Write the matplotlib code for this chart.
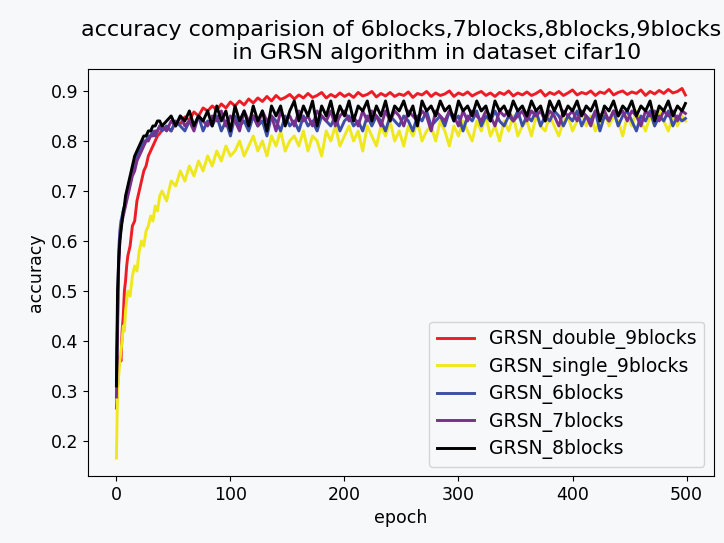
import matplotlib
matplotlib.use("Agg")
import matplotlib.pyplot as plt

# sampled epochs (dense at the start, every 4 epochs afterwards)
epochs = list(range(0, 10)) + list(range(10, 40, 2)) + list(range(40, 500, 4)) + [499]

double_9 = [0.266, 0.31, 0.35, 0.37, 0.36, 0.42, 0.45, 0.50, 0.52, 0.55,
            0.57, 0.59, 0.63, 0.64, 0.68, 0.70, 0.72, 0.74, 0.75, 0.77, 0.78, 0.79, 0.80, 0.81, 0.815,
            0.822, 0.828, 0.820, 0.838, 0.834, 0.848, 0.842, 0.858, 0.850, 0.866,
            0.860, 0.870, 0.862, 0.874, 0.866, 0.878, 0.870, 0.880, 0.872, 0.884,
            0.876, 0.886, 0.879, 0.889, 0.880, 0.891, 0.883, 0.887, 0.893, 0.884,
            0.892, 0.886, 0.895, 0.887, 0.891, 0.897, 0.886, 0.893, 0.888, 0.896,
            0.889, 0.894, 0.887, 0.897, 0.890, 0.893, 0.899, 0.888, 0.895, 0.890,
            0.897, 0.889, 0.894, 0.891, 0.898, 0.887, 0.895, 0.892, 0.899, 0.889,
            0.896, 0.891, 0.894, 0.900, 0.889, 0.896, 0.892, 0.898, 0.890, 0.895,
            0.899, 0.891, 0.896, 0.889, 0.897, 0.893, 0.900, 0.890, 0.896, 0.892,
            0.898, 0.891, 0.895, 0.901, 0.890, 0.897, 0.893, 0.899, 0.891, 0.896,
            0.902, 0.892, 0.897, 0.894, 0.900, 0.891, 0.898, 0.895, 0.903, 0.892,
            0.897, 0.900, 0.893, 0.898, 0.895, 0.902, 0.891, 0.899, 0.894, 0.901,
            0.895, 0.903, 0.896, 0.899, 0.905,
            0.892]

single_9 = [0.166, 0.30, 0.33, 0.36, 0.38, 0.40, 0.43, 0.42, 0.46, 0.48,
            0.50, 0.49, 0.53, 0.55, 0.54, 0.58, 0.60, 0.59, 0.62, 0.63, 0.65, 0.64, 0.67, 0.66, 0.69,
            0.70, 0.68, 0.72, 0.71, 0.74, 0.72, 0.75, 0.73, 0.76, 0.74,
            0.77, 0.75, 0.78, 0.76, 0.79, 0.77, 0.78, 0.80, 0.77, 0.79,
            0.81, 0.78, 0.80, 0.77, 0.81, 0.79, 0.82, 0.78, 0.80, 0.81,
            0.79, 0.82, 0.78, 0.81, 0.80, 0.77, 0.82, 0.80, 0.83, 0.79,
            0.81, 0.83, 0.80, 0.82, 0.78, 0.83, 0.81, 0.79, 0.83, 0.81,
            0.84, 0.80, 0.82, 0.79, 0.83, 0.81, 0.84, 0.80, 0.82, 0.83,
            0.80, 0.84, 0.82, 0.79, 0.83, 0.81, 0.84, 0.82, 0.80, 0.84,
            0.82, 0.85, 0.81, 0.83, 0.80, 0.84, 0.82, 0.85, 0.81, 0.83,
            0.84, 0.81, 0.85, 0.83, 0.82, 0.85, 0.83, 0.81, 0.84, 0.85,
            0.82, 0.84, 0.86, 0.83, 0.85, 0.82, 0.84, 0.86, 0.83, 0.85,
            0.84, 0.81, 0.85, 0.83, 0.86, 0.84, 0.82, 0.85, 0.83, 0.86,
            0.84, 0.82, 0.85, 0.83, 0.85,
            0.84]

blocks_6 = [0.32, 0.45, 0.58, 0.62, 0.64, 0.65, 0.66, 0.67, 0.68, 0.69,
            0.70, 0.72, 0.74, 0.75, 0.77, 0.78, 0.79, 0.80, 0.80, 0.81, 0.81, 0.82, 0.81, 0.82, 0.83,
            0.82, 0.83, 0.82, 0.84, 0.83, 0.82, 0.84, 0.83, 0.85, 0.82,
            0.84, 0.83, 0.85, 0.82, 0.84, 0.81, 0.85, 0.83, 0.84, 0.82,
            0.85, 0.83, 0.84, 0.81, 0.85, 0.84, 0.82, 0.85, 0.83, 0.84,
            0.82, 0.85, 0.83, 0.84, 0.82, 0.85, 0.84, 0.83, 0.85, 0.82,
            0.84, 0.85, 0.83, 0.84, 0.82, 0.85, 0.83, 0.85, 0.84, 0.82,
            0.85, 0.84, 0.83, 0.85, 0.84, 0.82, 0.85, 0.84, 0.86, 0.83,
            0.84, 0.85, 0.83, 0.86, 0.84, 0.85, 0.82, 0.85, 0.84, 0.86,
            0.83, 0.85, 0.84, 0.86, 0.84, 0.83, 0.85, 0.84, 0.86, 0.83,
            0.85, 0.84, 0.86, 0.83, 0.85, 0.84, 0.86, 0.85, 0.83, 0.85,
            0.84, 0.86, 0.83, 0.85, 0.84, 0.86, 0.82, 0.85, 0.84, 0.86,
            0.83, 0.85, 0.86, 0.84, 0.82, 0.85, 0.84, 0.86, 0.83, 0.85,
            0.84, 0.86, 0.83, 0.85, 0.84,
            0.845]

blocks_7 = [0.288, 0.42, 0.55, 0.60, 0.63, 0.64, 0.65, 0.66, 0.67, 0.68,
            0.69, 0.71, 0.73, 0.74, 0.76, 0.77, 0.78, 0.79, 0.80, 0.80, 0.81, 0.81, 0.82, 0.82, 0.83,
            0.83, 0.82, 0.84, 0.83, 0.85, 0.83, 0.84, 0.82, 0.85, 0.84,
            0.83, 0.85, 0.84, 0.86, 0.83, 0.85, 0.84, 0.82, 0.86, 0.84,
            0.85, 0.83, 0.86, 0.84, 0.85, 0.82, 0.86, 0.84, 0.85, 0.83,
            0.86, 0.84, 0.85, 0.83, 0.86, 0.85, 0.84, 0.86, 0.83, 0.85,
            0.86, 0.84, 0.85, 0.83, 0.86, 0.84, 0.86, 0.85, 0.83, 0.86,
            0.84, 0.86, 0.85, 0.83, 0.86, 0.85, 0.84, 0.86, 0.85, 0.82,
            0.86, 0.85, 0.84, 0.86, 0.85, 0.83, 0.86, 0.84, 0.86, 0.85,
            0.84, 0.86, 0.85, 0.83, 0.86, 0.85, 0.86, 0.84, 0.85, 0.86,
            0.84, 0.86, 0.85, 0.86, 0.84, 0.86, 0.85, 0.83, 0.86, 0.85,
            0.86, 0.84, 0.86, 0.85, 0.83, 0.86, 0.85, 0.86, 0.84, 0.86,
            0.85, 0.86, 0.84, 0.86, 0.85, 0.83, 0.86, 0.85, 0.86, 0.84,
            0.86, 0.85, 0.86, 0.84, 0.86,
            0.855]

blocks_8 = [0.31, 0.50, 0.56, 0.60, 0.62, 0.64, 0.66, 0.67, 0.69, 0.70,
            0.71, 0.73, 0.75, 0.77, 0.78, 0.79, 0.80, 0.81, 0.81, 0.82, 0.82, 0.83, 0.83, 0.84, 0.84,
            0.83, 0.84, 0.85, 0.83, 0.85, 0.84, 0.86, 0.83, 0.85, 0.84,
            0.86, 0.83, 0.87, 0.84, 0.86, 0.82, 0.87, 0.84, 0.86, 0.83,
            0.87, 0.84, 0.86, 0.82, 0.87, 0.85, 0.87, 0.83, 0.86, 0.88,
            0.84, 0.87, 0.85, 0.88, 0.83, 0.87, 0.85, 0.88, 0.84, 0.87,
            0.85, 0.88, 0.84, 0.87, 0.86, 0.88, 0.84, 0.87, 0.85, 0.88,
            0.84, 0.87, 0.86, 0.88, 0.85, 0.87, 0.83, 0.88, 0.86, 0.87,
            0.85, 0.88, 0.86, 0.87, 0.84, 0.88, 0.86, 0.87, 0.85, 0.88,
            0.86, 0.87, 0.84, 0.88, 0.86, 0.87, 0.85, 0.88, 0.86, 0.87,
            0.85, 0.88, 0.86, 0.87, 0.84, 0.88, 0.86, 0.88, 0.85, 0.87,
            0.86, 0.88, 0.85, 0.87, 0.86, 0.88, 0.84, 0.87, 0.86, 0.88,
            0.85, 0.87, 0.86, 0.88, 0.85, 0.87, 0.86, 0.88, 0.84, 0.87,
            0.86, 0.88, 0.85, 0.87, 0.86,
            0.875]

bg = '#f7f8fa'
fig = plt.figure(figsize=(7.24, 5.43), dpi=100, facecolor=bg)
ax = fig.add_axes([0.1215, 0.1234, 0.8645, 0.7496], facecolor=bg)

lw = 2.1
ax.plot(epochs, double_9, color='#ee1d25', lw=lw, label='GRSN_double_9blocks')
ax.plot(epochs, single_9, color='#eee81c', lw=lw, label='GRSN_single_9blocks')
ax.plot(epochs, blocks_6, color='#3c4fa6', lw=lw, label='GRSN_6blocks')
ax.plot(epochs, blocks_7, color='#7a2f8c', lw=lw, label='GRSN_7blocks')
ax.plot(epochs, blocks_8, color='#000000', lw=lw, label='GRSN_8blocks')

ax.set_ylim(0.13, 0.944)
ax.set_xticks([0, 100, 200, 300, 400, 500])
ax.tick_params(labelsize=12.5)
ax.set_xlabel('epoch', fontsize=12.5)
ax.set_ylabel('accuracy', fontsize=12.5)
ax.set_title('accuracy comparision of 6blocks,7blocks,8blocks,9blocks\n'
             '          in GRSN algorithm in dataset cifar10',
             fontsize=16, pad=7)
leg = ax.legend(loc='lower right', fontsize=13.5, facecolor=bg, labelspacing=0.4)

plt.savefig('out.png', dpi=100, facecolor=bg)
plt.close()
